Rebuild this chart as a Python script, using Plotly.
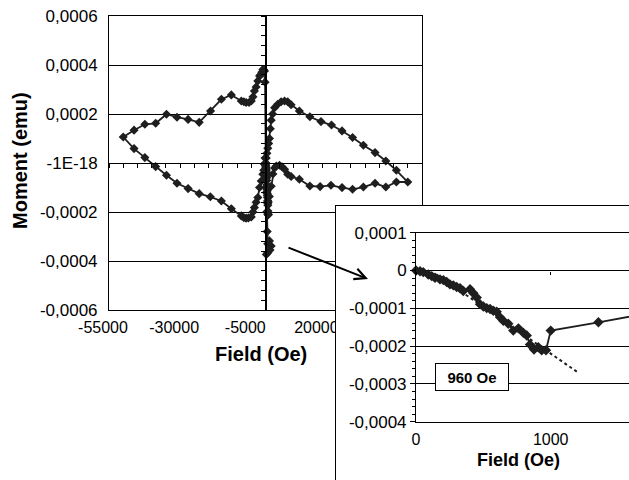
import plotly.graph_objects as go

# ---------------- data ----------------
# virgin curve (shown in the inset, and first part of the main loop)
virgin_field = [0, 30, 54, 91, 117, 141, 178, 203, 228, 252, 277, 302, 327, 351, 401, 426,
                451, 475, 500, 525, 550, 574, 599, 624, 648, 685, 722, 760, 797, 822, 846,
                876, 908, 933, 965, 1000, 1354, 2000]
virgin_moment = [0, -0.0000018, -0.0000044, -0.0000105, -0.0000149, -0.0000193, -0.0000236,
                 -0.0000254, -0.0000306, -0.0000367, -0.0000393, -0.0000437, -0.0000471,
                 -0.0000542, -0.0000497, -0.0000602, -0.0000717, -0.000089, -0.0000953,
                 -0.0000995, -0.000102, -0.0001065, -0.000109, -0.000124, -0.000133, -0.000141,
                 -0.000159, -0.000153, -0.000165, -0.000172, -0.000196, -0.000209, -0.000203,
                 -0.000211, -0.000211, -0.000159, -0.000137, -0.000095]

# rest of the hysteresis loop
loop_field = [2600, 3200, 3800, 4900, 5800, 6700, 7800, 9000, 11900, 15600, 19200, 23000, 26900,
              30600, 34400, 38500, 42300, 46000, 50000,
              46000, 42300, 38500, 34400, 30600, 26900, 23200, 19500, 15600, 11900, 9000, 7800,
              6700, 5500, 4300, 3200, 2500, 2000, 1700, 1400, 1100, 800, 500, 250, 100,
              -150, -350, -600, -900, -1300, -1700, -2100, -2700, -3300, -3900, -4400, -5000,
              -5800, -6800, -7600, -8500, -12000, -15500, -19300, -23300, -27200, -31100, -34800,
              -38600, -42400, -46200, -50000,
              -46200, -42400, -38600, -34800, -31100, -27200, -23300, -19400, -15500, -12000,
              -8500, -7600, -6800, -6000, -5000, -4400, -3900, -3300, -2700, -2100, -1500, -950,
              -600, -350, -150,
              150, 300, 450, 600, 800, 1400, 2000, 1600, 800, 300]
loop_moment = [-0.000045, -0.00002, -0.000012, -0.0000094, -0.000015, -0.0000257, -0.000046,
               -0.000055, -0.0000665, -0.0000939, -0.0000963, -0.000091, -0.0001004, -0.0001073,
               -0.000098, -0.0000829, -0.000098, -0.0000776, -0.0000776,
               -0.0000298, 0.0000082, 0.0000424, 0.0000722, 0.000104, 0.000131, 0.000155,
               0.000169, 0.000189, 0.000212, 0.000238, 0.00025, 0.000253, 0.00025, 0.00024,
               0.000226, 0.0002, 0.000175, 0.00014, 0.0001, 0.00008, 0.00006, 0.00004, 0.00002,
               0.0,
               0.00033, 0.000376, 0.00038, 0.000382, 0.00037, 0.00036, 0.000355, 0.000335,
               0.00031, 0.000294, 0.00027, 0.000253, 0.000247, 0.000247, 0.00025, 0.000253,
               0.000278, 0.00026, 0.000212, 0.000166, 0.000178, 0.000187, 0.000199, 0.000162,
               0.000158, 0.000134, 0.000106,
               0.0000588, 0.000022, -0.0000147, -0.0000502, -0.0000829, -0.0001045, -0.000125,
               -0.000138, -0.000155, -0.000187, -0.000216, -0.000223, -0.000225, -0.000224,
               -0.00022, -0.0002, -0.000182, -0.00016, -0.000141, -0.0001, -0.0000735,
               -0.000046, -0.00003, -0.0000053, 0.00002,
               -0.00005, -0.00012, -0.0002, -0.00028, -0.00033, -0.000318, -0.000339, -0.000355,
               -0.000366, -0.000373]

main_field = virgin_field + loop_field
main_moment = virgin_moment + loop_moment

# dotted trend line of the inset (end points)
trend_field = [150, 1195]
trend_moment = [-0.00001, -0.000268]

main_y_ticks = [-0.0006, -0.0004, -0.0002, 0, 0.0002, 0.0004, 0.0006]
main_y_text = ["-0,0006", "-0,0004", "-0,0002", "-1E-18", "0,0002", "0,0004", "0,0006"]
main_x_ticks = [-55000, -30000, -5000, 20000, 45000]
main_x_text = ["-55000", "-30000", "-5000", "20000", "45000"]
inset_y_ticks = [-0.0004, -0.0003, -0.0002, -0.0001, 0, 0.0001]
inset_y_text = ["-0,0004", "-0,0003", "-0,0002", "-0,0001", "0", "0,0001"]
inset_x_ticks = [0, 1000]
inset_x_text = ["0", "1000"]

# ---------------- figure ----------------
W, H = 629, 480
FONT = "Liberation Sans, Arial, sans-serif"
INK = "#1e1e1e"

def px_x(p):
    return p / W

def px_y(p):
    return 1 - p / H

main_xd = [px_x(109), px_x(422)]
main_yd = [px_y(310), px_y(16)]
inset_xd = [px_x(416), 1.0]
inset_yd = [px_y(421.7), px_y(232.7)]
cover_xd = [px_x(336), 1.0]
cover_yd = [0.0, px_y(206)]

fig = go.Figure()

# main loop
fig.add_trace(go.Scatter(x=main_field, y=main_moment, mode="lines+markers",
                         line=dict(color=INK, width=1.8),
                         marker=dict(symbol="diamond", size=7, color=INK),
                         xaxis="x", yaxis="y", showlegend=False))
# white cover subplot for the inset frame
fig.add_trace(go.Scatter(x=[None], y=[None], xaxis="x2", yaxis="y2", showlegend=False))
# inset
fig.add_trace(go.Scatter(x=trend_field, y=trend_moment, mode="lines",
                         line=dict(color=INK, width=2, dash="dot"),
                         xaxis="x3", yaxis="y3", showlegend=False))
fig.add_trace(go.Scatter(x=virgin_field, y=virgin_moment, mode="lines+markers",
                         line=dict(color=INK, width=1.8),
                         marker=dict(symbol="diamond", size=8, color=INK),
                         cliponaxis=False,
                         xaxis="x3", yaxis="y3", showlegend=False))
# helper traces for the crossing axes
fig.add_trace(go.Scatter(x=[None], y=[None], xaxis="x4", yaxis="y", showlegend=False))
fig.add_trace(go.Scatter(x=[None], y=[None], xaxis="x", yaxis="y4", showlegend=False))
fig.add_trace(go.Scatter(x=[None], y=[None], xaxis="x5", yaxis="y3", showlegend=False))

tickfont_y = dict(family=FONT, size=17, color="black")
tickfont_x = dict(family=FONT, size=16, color="black")

zero_main = main_yd[0] + 0.5 * (main_yd[1] - main_yd[0])
xzero_main = main_xd[0] + 0.5 * (main_xd[1] - main_xd[0])
zero_inset = inset_yd[0] + 0.8 * (inset_yd[1] - inset_yd[0])

fig.update_layout(
    width=W, height=H,
    margin=dict(l=0, r=0, t=0, b=0, pad=0, autoexpand=False),
    paper_bgcolor="white", plot_bgcolor="white",
    showlegend=False,
    xaxis=dict(domain=main_xd, range=[-55000, 55000], anchor="y", automargin=False,
               tickmode="array", tickvals=main_x_ticks, ticktext=main_x_text,
               tickfont=tickfont_x, ticks="", ticklabelstandoff=3, ticklabelshift=-6,
               showgrid=False, zeroline=False, showline=True, mirror=True,
               linecolor="black", linewidth=1),
    yaxis=dict(domain=main_yd, range=[-0.0006, 0.0006], anchor="x", automargin=False,
               tickmode="array", tickvals=main_y_ticks, ticktext=main_y_text,
               tickfont=tickfont_y, ticks="", ticklabelstandoff=7,
               showgrid=True, gridcolor="black", gridwidth=1, zeroline=False,
               showline=True, mirror=True, linecolor="black", linewidth=1),
    xaxis4=dict(overlaying="x", anchor="free", position=zero_main, side="bottom",
                automargin=False,
                range=[-55000, 55000], tickmode="linear", tick0=0, dtick=5000,
                ticks="outside", ticklen=4, tickcolor="black", tickwidth=1,
                showticklabels=False, showgrid=False, zeroline=False,
                showline=True, linecolor="black", linewidth=1),
    yaxis4=dict(overlaying="y", anchor="free", position=xzero_main, side="left",
                automargin=False, autoshift=False,
                range=[-0.0006, 0.0006], tickmode="linear", tick0=0, dtick=0.00004,
                ticks="outside", ticklen=4, tickcolor="black", tickwidth=1,
                showticklabels=False, showgrid=False, zeroline=False,
                showline=True, linecolor="black", linewidth=1.5),
    xaxis2=dict(domain=cover_xd, range=[0, 1], anchor="y2", side="top", automargin=False,
                showline=True, linecolor="black", linewidth=1, mirror=False,
                showgrid=False, zeroline=False, showticklabels=False, ticks=""),
    yaxis2=dict(domain=cover_yd, range=[0, 1], anchor="x2", side="left", automargin=False,
                showline=True, linecolor="black", linewidth=1, mirror=False,
                showgrid=False, zeroline=False, showticklabels=False, ticks=""),
    xaxis3=dict(domain=inset_xd, range=[0, 1581], anchor="y3", automargin=False,
                tickmode="array", tickvals=inset_x_ticks, ticktext=inset_x_text,
                tickfont=tickfont_x, ticks="", ticklabelstandoff=3,
                showgrid=False, zeroline=False, showline=True, mirror=True,
                linecolor="black", linewidth=1),
    yaxis3=dict(domain=inset_yd, range=[-0.0004, 0.0001], anchor="x3", automargin=False,
                tickmode="array", tickvals=inset_y_ticks, ticktext=inset_y_text,
                tickfont=tickfont_y, ticks="outside", ticklen=5, tickcolor="black",
                minor=dict(tickmode="linear", tick0=0, dtick=0.00002, ticks="outside",
                           ticklen=3, tickcolor="black", showgrid=False),
                showgrid=True, gridcolor="black", gridwidth=1, zeroline=False,
                showline=True, linecolor="black", linewidth=1),
    xaxis5=dict(overlaying="x3", anchor="free", position=zero_inset, side="bottom",
                automargin=False,
                range=[0, 1581], tickmode="linear", tick0=0, dtick=1000,
                ticks="outside", ticklen=3, tickcolor="black",
                showticklabels=False, showgrid=False, zeroline=False, showline=False),
)

def label(text, x, y, size, **kw):
    fig.add_annotation(text=text, xref="paper", yref="paper", x=px_x(x), y=px_y(y),
                       xanchor="center", yanchor="middle", showarrow=False,
                       font=dict(family=FONT, size=size, color="black"), **kw)

label("<b>Moment (emu)</b>", 20, 161, 20, textangle=-90)
label("<b>Field (Oe)</b>", 261, 354, 20)
label("<b>Field (Oe)</b>", 518, 460, 18)
label("<b>960 Oe</b>", 472, 377, 15, width=70, height=24, borderpad=1,
      bordercolor="black", borderwidth=1, bgcolor="white")

fig.add_annotation(text="", xref="paper", yref="paper",
                   x=px_x(368), y=px_y(279), ax=-81, ay=-32,
                   showarrow=True, arrowhead=5, arrowsize=1.1, arrowwidth=2,
                   arrowcolor="black", standoff=0, startstandoff=0)

fig.write_html("out.html")
